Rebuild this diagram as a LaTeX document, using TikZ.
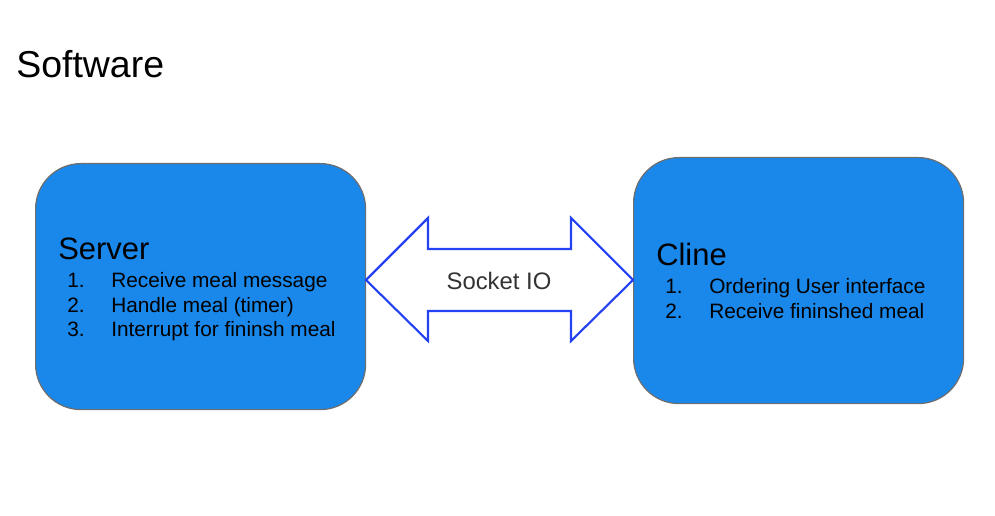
\documentclass[tikz,border=0pt]{standalone}
\usepackage{fontspec}
\setmainfont{Liberation Sans}
\definecolor{boxblue}{HTML}{1A87EA}
\definecolor{boxedge}{HTML}{6E6E6E}
\definecolor{arrblue}{HTML}{2441F2}
\definecolor{txtgray}{HTML}{333333}
\begin{document}
\begin{tikzpicture}[x=0.75pt,y=-0.75pt,
  box/.style={draw=boxedge, line width=0.9pt, fill=boxblue, rounded corners=34pt,
    minimum width=247.5pt, minimum height=184.5pt, inner sep=0pt, anchor=north west},
  title/.style={anchor=base west, inner sep=0pt, font=\fontsize{28.1}{33}\selectfont},
  head/.style={anchor=base west, inner sep=0pt, font=\fontsize{23.2}{28}\selectfont},
  item/.style={anchor=base west, inner sep=0pt, font=\fontsize{15.6}{18}\selectfont}]
\useasboundingbox (0,0) rectangle (995,516);
\node[title] (t) at (16,78) {Software};
\node[box] (server) at (35,163) {};
\node[box] (client) at (633,157) {};
% arrow
\draw[arrblue, line width=1.6pt, line join=miter, fill=white]
  (366,280) -- (428,218) -- (428,249) -- (571,249) -- (571,218) -- (633,280)
  -- (571,341) -- (571,311) -- (428,311) -- (428,341) -- cycle;
\node[anchor=center, inner sep=0pt, text=txtgray, font=\fontsize{17.9}{21}\selectfont] (sock) at (499,281) {Socket IO};
% server text
\node[head] (sh) at (58,260) {Server};
\node[item] (s1n) at (67,288) {1.};
\node[item] (s1) at (111,288) {Receive meal message};
\node[item] (s2n) at (67,312.5) {2.};
\node[item] (s2) at (111,312.5) {Handle meal (timer)};
\node[item] (s3n) at (67,337) {3.};
\node[item] (s3) at (111,337) {Interrupt for fininsh meal};
% client text
\node[head] (ch) at (656,266) {Cline};
\node[item] (c1n) at (665,294) {1.};
\node[item] (c1) at (709,294) {Ordering User interface};
\node[item] (c2n) at (665,318.5) {2.};
\node[item] (c2) at (709,318.5) {Receive fininshed meal};
\end{tikzpicture}
\end{document}
